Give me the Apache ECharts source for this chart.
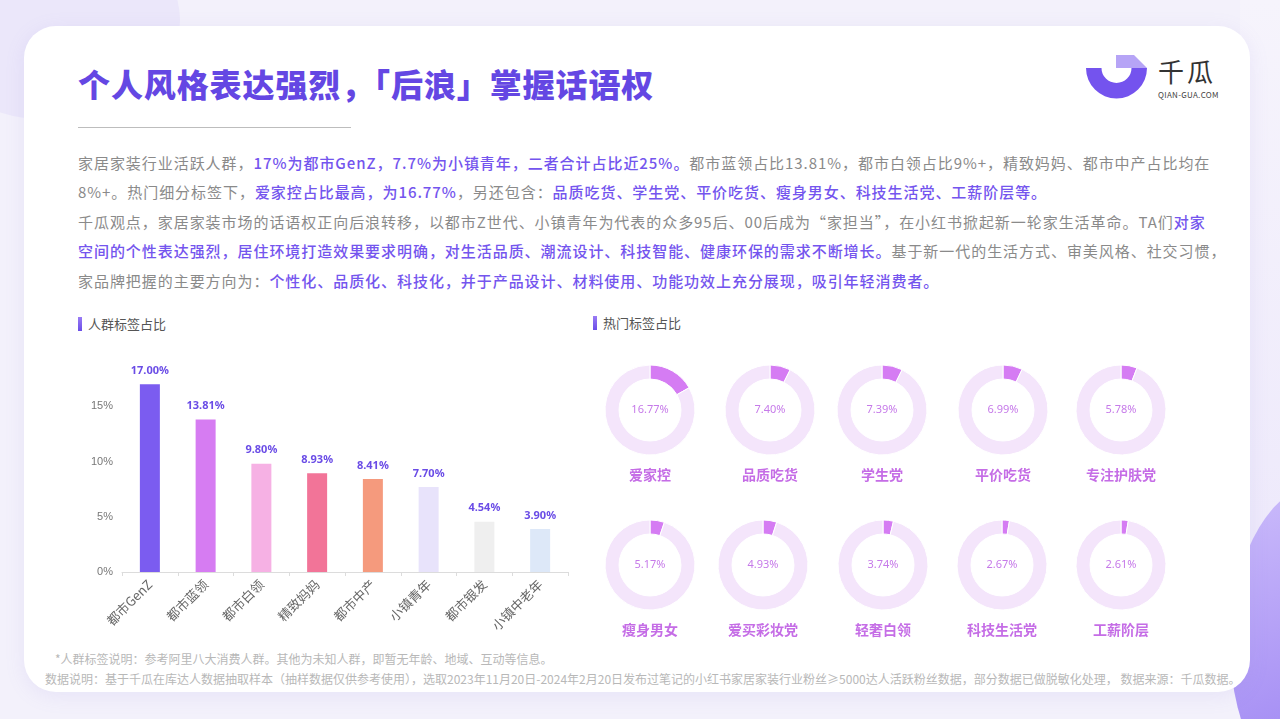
<!DOCTYPE html>
<html><head><meta charset="utf-8">
<script src="https://cdn.jsdelivr.net/npm/echarts@6/dist/echarts.min.js"></script>
<style>
html,body{margin:0;padding:0;width:1280px;height:719px;overflow:hidden;background:#f3f1fb;font-family:"Noto Sans CJK SC","Noto Sans",sans-serif;}
#bgR{position:absolute;right:0;top:0;width:40px;height:719px;background:linear-gradient(#f6f4fc,#ebe6fb);}
#bg1{position:absolute;right:-150px;bottom:-90px;width:200px;height:330px;border-radius:50%;background:linear-gradient(160deg,#cdbefb,#9378f1);}
#bg2{position:absolute;left:-80px;top:-80px;width:260px;height:200px;border-radius:50%;background:#ebe7fa;}
#card{position:absolute;left:24px;top:26px;width:1226px;height:666px;background:#fff;border-radius:32px;box-shadow:0 4px 20px rgba(150,130,220,0.12);}
#title{position:absolute;left:78px;top:61px;font-size:32px;font-weight:900;color:#6447e3;line-height:44px;white-space:nowrap;letter-spacing:0.9px;}
#rule{position:absolute;left:78px;top:127px;width:273px;height:1px;background:#bdbdbd;}
.ln{position:absolute;left:78px;font-size:15px;line-height:20px;color:#8a8a8a;white-space:nowrap;letter-spacing:0.95px;}
.ln b{color:#7455ee;font-weight:500;}
.sec{position:absolute;font-size:13px;color:#555;line-height:16px;}
.sec i{position:absolute;left:-10px;top:1px;width:4px;height:14px;background:linear-gradient(#9a7cf5,#6a4de8);}
.foot{position:absolute;font-size:12px;color:#b8b8b8;white-space:nowrap;line-height:15px;}
#logo{position:absolute;left:1086px;top:50px;}
#lg1{position:absolute;left:1158px;top:55px;font-size:26px;color:#333;letter-spacing:3px;line-height:32px;}
#lg2{position:absolute;left:1158px;top:90px;font-size:8px;color:#444;letter-spacing:0.3px;line-height:10px;}
#chart{position:absolute;left:0;top:0;width:1280px;height:719px;}
</style></head>
<body>
<div id="bgR"></div><div id="bg2"></div><div id="bg1"></div>
<div id="card"></div>
<div id="title">个人风格表达强烈，「后浪」掌握话语权</div>
<div id="rule"></div>
<svg id="logo" width="64" height="52" viewBox="0 0 64 52">
  <path d="M0 18 L15.5 18 A15 15 0 0 0 45.5 18 L61 18 A30.5 30.5 0 0 1 0 18 Z" fill="#7453ee"/>
  <path d="M30 5 L48 5 L61 18 L30 18 Z" fill="#a994f5" fill-opacity="0.85"/>
</svg>
<div id="lg1">千瓜</div>
<div id="lg2">QIAN-GUA.COM</div>
<div class="ln" style="top:153px">家居家装行业活跃人群，<b>17%为都市GenZ，7.7%为小镇青年，二者合计占比近25%。</b>都市蓝领占比13.81%，都市白领占比9%+，精致妈妈、都市中产占比均在</div>
<div class="ln" style="top:182px">8%+。热门细分标签下，<b>爱家控占比最高，为16.77%</b>，另还包含：<b>品质吃货、学生党、平价吃货、瘦身男女、科技生活党、工薪阶层等。</b></div>
<div class="ln" style="top:212px">千瓜观点，家居家装市场的话语权正向后浪转移，以都市Z世代、小镇青年为代表的众多95后、00后成为“家担当”，在小红书掀起新一轮家生活革命。TA们<b>对家</b></div>
<div class="ln" style="top:241px"><b>空间的个性表达强烈，居住环境打造效果要求明确，对生活品质、潮流设计、科技智能、健康环保的需求不断增长。</b>基于新一代的生活方式、审美风格、社交习惯，</div>
<div class="ln" style="top:271px">家品牌把握的主要方向为：<b>个性化、品质化、科技化，并于产品设计、材料使用、功能功效上充分展现，吸引年轻消费者。</b></div>
<div class="sec" style="left:88px;top:316px"><i></i>人群标签占比</div>
<div class="sec" style="left:603px;top:315px"><i></i>热门标签占比</div>
<div class="foot" style="left:55px;top:651px">*人群标签说明：参考阿里八大消费人群。其他为未知人群，即暂无年龄、地域、互动等信息。</div>
<div class="foot" style="left:45px;top:671px">数据说明：基于千瓜在库达人数据抽取样本（抽样数据仅供参考使用），选取2023年11月20日-2024年2月20日发布过笔记的小红书家居家装行业粉丝≥5000达人活跃粉丝数据，部分数据已做脱敏化处理， 数据来源：千瓜数据。</div>
<div id="chart"></div>
<script>
const crowdCategories = ['都市GenZ','都市蓝领','都市白领','精致妈妈','都市中产','小镇青年','都市银发','小镇中老年'];
const crowdValues = [17.00, 13.81, 9.80, 8.93, 8.41, 7.70, 4.54, 3.90];
const crowdColors = ['#7b5cf0','#d67cf2','#f6b1e4','#f27498','#f59a7d','#e8e3fb','#efefef','#dde8f8'];
const yTicks = [0, 5, 10, 15];
const hotTags = ['爱家控','品质吃货','学生党','平价吃货','专注护肤党','瘦身男女','爱买彩妆党','轻奢白领','科技生活党','工薪阶层'];
const hotValues = [16.77, 7.40, 7.39, 6.99, 5.78, 5.17, 4.93, 3.74, 2.67, 2.61];

const donutCenters = [[650,410],[770,410],[882,410],[1003,410],[1121,410],[650,565],[763,565],[883,565],[1002,565],[1121,565]];

const chart = echarts.init(document.getElementById('chart'));
const series = [{
  type: 'bar',
  barWidth: 20,
  data: crowdValues.map((v, i) => ({ value: v, itemStyle: { color: crowdColors[i] } })),
  label: { show: true, position: 'top', distance: 8, color: '#6a4ce6', fontWeight: 'bold', fontSize: 11,
    fontFamily: 'Noto Sans', formatter: p => p.value.toFixed(2) + '%' }
}];
const graphics = [];
hotTags.forEach((name, i) => {
  const v = hotValues[i];
  series.push({
    type: 'pie', center: donutCenters[i], radius: [31, 45], startAngle: 90, clockwise: true,
    silent: true, animation: false,
    itemStyle: { borderColor: '#fff', borderWidth: 1 },
    labelLine: { show: false },
    data: [
      { value: v, name: name, itemStyle: { color: '#d57cf3' },
        label: { show: true, position: 'center', formatter: v.toFixed(2) + '%', color: '#c67ae9', fontSize: 11, fontFamily: 'Noto Sans' } },
      { value: 100 - v, name: 'rest', itemStyle: { color: '#f4e5fb' }, label: { show: false } }
    ]
  });
  graphics.push({ type: 'text', x: donutCenters[i][0], y: donutCenters[i][1] + 65,
    style: { text: name, fill: '#c56de6', font: 'bold 14px "Noto Sans CJK SC"', textAlign: 'center', textVerticalAlign: 'middle' } });
});

chart.setOption({
  animation: false,
  grid: { left: 122, right: 712, top: 351, bottom: 147, containLabel: false },
  xAxis: {
    type: 'category', data: crowdCategories,
    axisLine: { lineStyle: { color: '#dcdcdc' } },
    axisTick: { show: true, length: 4, lineStyle: { color: '#dcdcdc' } },
    axisLabel: { rotate: 45, color: '#666', fontSize: 13, margin: 10, interval: 0, fontFamily: 'Noto Sans CJK SC' }
  },
  yAxis: {
    type: 'value', min: 0, max: 20, interval: 5,
    axisLine: { show: false }, axisTick: { show: false }, splitLine: { show: false },
    axisLabel: { color: '#777', fontSize: 11, margin: 9, showMaxLabel: false, formatter: v => (yTicks.includes(v) ? v + '%' : '') }
  },
  series: series,
  graphic: graphics
});
</script>
</body></html>
